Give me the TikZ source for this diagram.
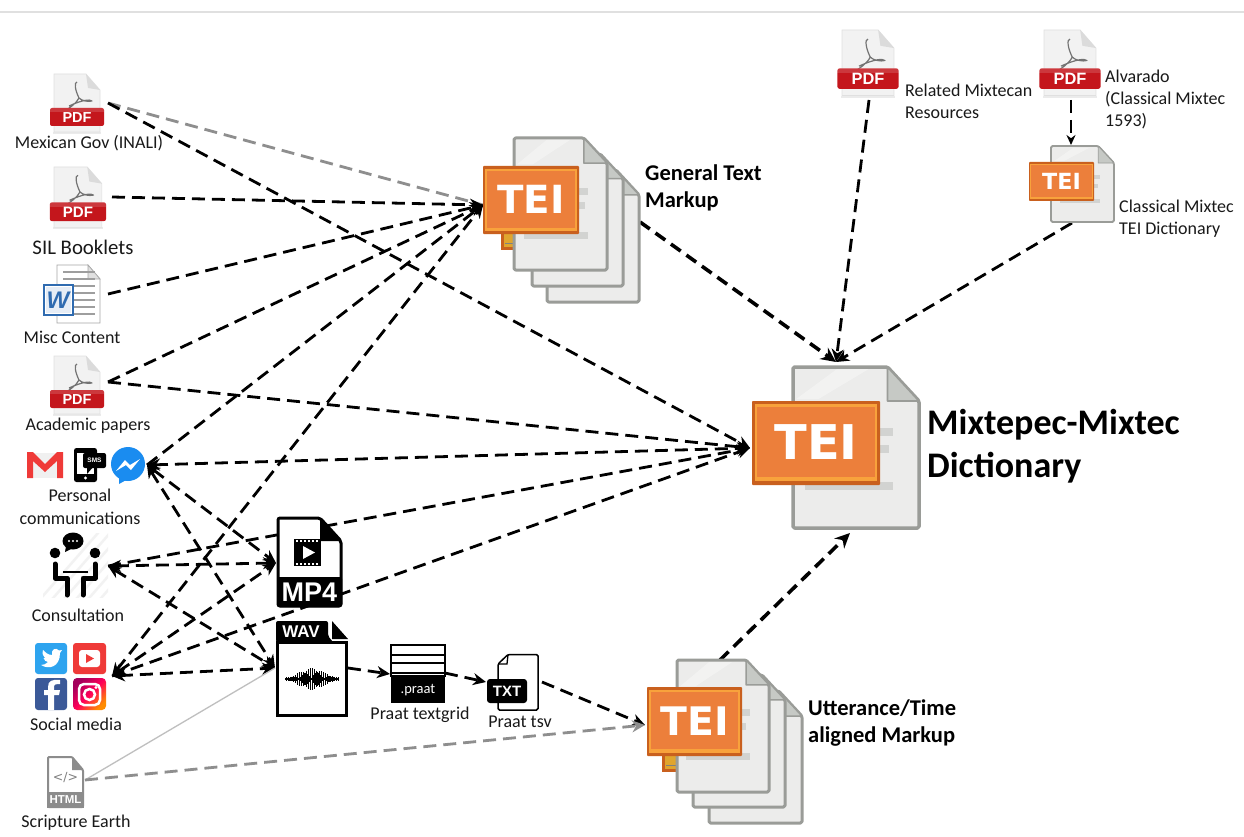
\documentclass[tikz,border=0pt]{standalone}
\usepackage{fontspec}
\setmainfont{Carlito}
\newfontfamily\arsf{Liberation Sans}
\newfontfamily\djv{DejaVu Sans}
\usetikzlibrary{arrows.meta,calc}
\definecolor{pagefill}{HTML}{ECECEB}
\definecolor{pageedge}{HTML}{9A9C98}
\definecolor{foldfill}{HTML}{C6C9C5}
\definecolor{teiorange}{HTML}{EC7F3B}
\definecolor{teidark}{HTML}{C9601E}
\definecolor{teilight}{HTML}{F8A23C}
\definecolor{teiyellow}{HTML}{E0A52E}
\definecolor{barcol}{HTML}{D2D3D1}
\definecolor{pdfred}{HTML}{C4161C}
\definecolor{graydash}{HTML}{8E8E8E}
\definecolor{fbblue}{HTML}{3B5998}
\definecolor{twblue}{HTML}{2EA4EF}
\definecolor{ytred}{HTML}{EF3A38}
\definecolor{msblue}{HTML}{1A8CF0}
\definecolor{wdblue}{HTML}{2F6BB0}
\tikzset{
  conn/.style={draw=black,line width=2.8pt,dash pattern=on 13pt off 7pt,-{Stealth[length=13pt,width=12pt]}},
  connplain/.style={draw=black,line width=2.8pt,dash pattern=on 13pt off 7pt},
  connboth/.style={draw=black,line width=2.8pt,dash pattern=on 13pt off 7pt,{Stealth[length=13pt,width=12pt]}-{Stealth[length=13pt,width=12pt]}},
  connthick/.style={draw=black,line width=3.6pt,dash pattern=on 12pt off 7pt,-{Stealth[length=15pt,width=14pt]}},
  conngray/.style={draw=graydash,line width=2.8pt,dash pattern=on 13pt off 7pt},
  lbl/.style={font=\fontsize{18}{23}\selectfont,inner sep=0pt,align=center,text=black!90},
  lbls/.style={font=\fontsize{18}{22}\selectfont,inner sep=0pt,align=left,anchor=west,text=black!90},
  head/.style={font=\fontsize{22.5}{27}\selectfont\bfseries,inner sep=0pt,align=left,anchor=west},
}
\newcommand{\pdfico}[4]{%
  \begin{scope}[shift={(#2,#3)},scale=#4,transform shape]
    \fill[black!8] (-1,58) rectangle (47,60);
    \path[fill=black!5,draw=black!12,line width=.6pt] (0,0) -- (32,0) -- (46,16) -- (46,58) -- (0,58) -- cycle;
    \path[fill=black!14] (32,0) -- (46,16) -- (34,14) -- cycle;
    \draw[black!55,line width=1.2pt,line join=round] (23,8) .. controls (20,8) and (21,16) .. (25,24) .. controls (22,30) and (15,34) .. (11,37) (25,24) .. controls (28,27) and (34,28) .. (38,27) .. controls (36,25) and (28,26) .. (15,32);
    \path[fill=pdfred,rounded corners=2pt] (-4,34) rectangle (50,52);
    \path[fill=white,opacity=.15] (-4,34) rectangle (50,38);
    \node[inner sep=0pt,text=white,font=\arsf\fontsize{14.5}{14}\selectfont\bfseries] (#1) at (23,43.5) {PDF};
  \end{scope}}
\newcommand{\teipage}[5][3]{% [lw] x y w h
  \pgfmathsetmacro\fx{#4*.25}\pgfmathsetmacro\fy{#4*.27}
  \path[fill=pagefill,draw=pageedge,line width=#1pt,rounded corners=1.5pt,line join=round]
    (#2,#3) -- ($(#2+#4-\fx,#3)$) -- ($(#2+#4,#3+\fy)$) -- ($(#2+#4,#3+#5)$) -- ($(#2,#3+#5)$) -- cycle;
  \path[fill=foldfill,draw=pageedge,line width=#1*.5pt,line join=round]
    ($(#2+#4-\fx,#3)$) -- ($(#2+#4,#3+\fy)$) -- ($(#2+#4-\fx,#3+\fy)$) -- cycle;
  \path[fill=white,opacity=.35] ($(#2+#4*.35,#3+2)$) -- ($(#2+#4*.6,#3+2)$) -- ($(#2+#4*.2,#3+#5*.2)$) -- ($(#2+3,#3+#5*.2)$) -- cycle;
}
\newcommand{\teibox}[5]{% name x y w h
  \pgfmathsetmacro\fsz{#5*.57}
  \path[fill=teidark,rounded corners=.8pt] (#2,#3) rectangle ($(#2+#4,#3+#5)$);
  \path[fill=teilight] ($(#2+#5*.035,#3+#5*.04)$) rectangle ($(#2+#4-#5*.035,#3+#5*.95)$);
  \path[fill=teiorange] ($(#2+#5*.055,#3+#5*.075)$) rectangle ($(#2+#4-#5*.055,#3+#5*.905)$);
  \node[inner sep=0pt,text=white,font=\djv\fontsize{\fsz}{\fsz}\selectfont\bfseries] (#1) at ($(#2+#4*.5,#3+#5*.49)$) {TEI};
}
\newcommand{\teibars}[8]{% x1 x2 x3 x4 y1 y2 y3 th
  \fill[barcol] (#1,#5) rectangle ($(#2,#5+#8)$);
  \fill[barcol] (#1,#6) rectangle ($(#3,#6+#8)$);
  \fill[barcol] (#4,#7) rectangle ($(#2,#7+#8)$);
}
\begin{document}
\begin{tikzpicture}[x=1pt,y=-1pt]
\useasboundingbox (0,0) rectangle (1244,837);
\fill[white] (0,0) rectangle (1244,837);
\draw[black!12,line width=2pt] (0,12) -- (1244,12);

% ports
\coordinate (govout) at (108,103);
\coordinate (silout) at (112,197);
\coordinate (wordout) at (108,294);
\coordinate (acadout) at (108,382);
\coordinate (msgport) at (147,465);
\coordinate (consport) at (108,566);
\coordinate (socport) at (112,676);
\coordinate (htmlport) at (85,780);
\coordinate (genin) at (483,205);
\coordinate (genout) at (640,222);
\coordinate (dictin) at (750,448);
\coordinate (dicttop) at (836,362);
\coordinate (dictbot) at (850,533);
\coordinate (mp4in) at (276,563);
\coordinate (wavin) at (275,668);
\coordinate (wavout) at (348,668);
\coordinate (praatin) at (390,674);
\coordinate (praatout) at (445,673);
\coordinate (txtin) at (486,682);
\coordinate (txtout) at (542,682);
\coordinate (uttin) at (645,725);
\coordinate (uttout) at (720,660);
\coordinate (relout) at (869,100);
\coordinate (alvout) at (1071,100);
\coordinate (claIn) at (1071,145);
\coordinate (claout) at (1072,223);

% connectors
\draw[conngray] (govout) -- (genin);
\draw[conn] (govout) -- (dictin);
\draw[conn] (silout) -- (genin);
\draw[conn] (wordout) -- (genin);
\draw[conn] (acadout) -- (genin);
\draw[conn] (acadout) -- (dictin);
\draw[connboth] (msgport) -- (dictin);
\draw[connplain] (msgport) -- (genin);
\draw[connboth] (msgport) -- (mp4in);
\draw[connboth] (msgport) -- (wavin);
\draw[conn] (consport) -- (dictin);
\draw[connboth] (consport) -- (mp4in);
\draw[connboth] (consport) -- (wavin);
\draw[connboth] (socport) -- (genin);
\draw[connboth] (socport) -- (mp4in);
\draw[conn] (socport) -- (dictin);
\draw[connboth] (socport) -- (wavin);
\draw[conn] (wavout) -- (praatin);
\draw[conn] (praatout) -- (txtin);
\draw[conn] (txtout) -- (uttin);
\draw[black!25,line width=1.3pt] (htmlport) -- (wavin);
\draw[conngray,-{Stealth[length=13pt,width=12pt]}] (htmlport) -- (uttin);
\draw[connthick] (genout) -- (dicttop);
\draw[conn] (relout) -- (dicttop);
\draw[conn] (claout) -- (dicttop);
\draw[connthick] (uttout) -- (dictbot);
\draw[conn,-{Stealth[length=10pt,width=9pt]}] (alvout) -- (claIn);

% PDF icons
\pdfico{pdfgov}{54}{74}{1}
\pdfico{pdfsil}{54}{167}{1.04}
\pdfico{pdfacad}{54}{356}{1}
\pdfico{pdfrel}{842}{30}{1.13}
\pdfico{pdfalv}{1044}{30}{1.13}

% Word icon
\path[fill=white,draw=black!35,line width=.8pt] (57,265) -- (88,265) -- (100,279) -- (100,323) -- (57,323) -- cycle;
\path[fill=black!12,draw=black!35,line width=.6pt] (88,265) -- (100,279) -- (88,279) -- cycle;
\foreach \yy in {272,279,286,293,300,307,314}{\draw[black!38,line width=1.6pt] (63,\yy) -- (95,\yy);}
\path[fill=white,draw=wdblue,line width=2pt] (44,285) rectangle (73,315);
\path[fill=wdblue!12] (46,287) rectangle (71,313);
\node[inner sep=0pt,text=wdblue,font=\arsf\fontsize{24}{24}\selectfont\bfseries\itshape] (wordw) at (58,300) {W};

% Gmail
\fill[black!6] (30,453) rectangle (60,478);
\fill[ytred] (27,452) -- (33,452) -- (45,464) -- (57,452) -- (63,452) -- (63,478) -- (57,478) -- (57,461) -- (45,472) -- (33,461) -- (33,478) -- (27,478) -- cycle;

% SMS phone
\path[fill=black,rounded corners=2.5pt] (74,448) rectangle (97,482);
\fill[white] (77,453) rectangle (94,474);
\fill[white] (85.5,478) circle[radius=1.7];
\path[fill=black,rounded corners=2pt] (83,453) rectangle (106,468);
\fill[black] (87,466) -- (87,474) -- (94,466) -- cycle;
\node[inner sep=0pt,text=white,font=\arsf\fontsize{6.5}{7}\selectfont\bfseries] (smst) at (94.5,460) {SMS};

% Messenger
\fill[msblue] (128,464) circle[radius=17];
\fill[msblue] (119,476) -- (119,484) -- (128,479) -- cycle;
\fill[white] (116,471) -- (125,460) -- (130,465) -- (140,459) -- (131,470) -- (126,465) -- cycle;

% Consultation
\begin{scope}
  \clip (43,533) rectangle (108,597);
  \foreach \k in {0,12,...,132}{\draw[black!5,line width=2.5pt] ($(35+\k,605)$) -- ($(105+\k,525)$);}
\end{scope}
\fill[black] (55,553) circle[radius=5.3];
\fill[black] (95,553) circle[radius=5.3];
\draw[black,line width=5pt,line cap=round,line join=round] (55,564) -- (55,578) -- (67,578) -- (67,595);
\draw[black,line width=5pt,line cap=round,line join=round] (95,564) -- (95,578) -- (83,578) -- (83,595);
\draw[black,line width=2.6pt] (63,572) -- (88,572);
\fill[black] (73,541) ellipse[x radius=10.5,y radius=8.5];
\fill[black] (66,546) -- (65,552) -- (73,548) -- cycle;
\foreach \xx in {69,73,77}{\fill[white] (\xx,541) circle[radius=1.2];}

% MP4
\path[fill=white,draw=black,line width=3pt,rounded corners=2pt,line join=round] (278,518) -- (320,518) -- (341,541) -- (341,606) -- (278,606) -- cycle;
\path[fill=black] (320,518) -- (341,541) -- (320,541) -- cycle;
\path[fill=black,rounded corners=2pt] (277,577) rectangle (342,607);
\node[inner sep=0pt,text=white,font=\arsf\fontsize{27}{27}\selectfont\bfseries] (mp4t) at (309.5,592) {MP4};
\fill[black] (294,539) rectangle (321,566);
\foreach \xx in {296,300,...,318}{\fill[white] (\xx,540) rectangle ($(\xx+2,542)$);\fill[white] (\xx,563) rectangle ($(\xx+2,565)$);}
\fill[white] (303,546) -- (303,559) -- (315,552.5) -- cycle;

% WAV
\path[fill=white,draw=black,line width=3pt] (277.5,642) rectangle (346.5,715);
\path[fill=black,rounded corners=2pt] (276,621) -- (328,621) -- (328,636) -- (333,642) -- (276,642) -- cycle;
\fill[black] (332,621) -- (348,639) -- (332,639) -- cycle;
\node[inner sep=0pt,text=white,font=\arsf\fontsize{17}{17}\selectfont\bfseries] (wavt) at (301,632) {WAV};
\foreach \i in {0,...,53}{
  \pgfmathsetmacro\hh{0.8+(1+9*sin(\i*3.4)^2)*abs(sin(\i*97))}
  \draw[black,line width=.9pt] ($(285+\i,679-\hh)$) -- ($(285+\i,679+\hh)$);
}

% Praat
\draw[black,line width=1.6pt] (391,645) rectangle (445,676);
\draw[black,line width=1.1pt] (391,655) -- (445,655) (391,663) -- (445,663) (391,673) -- (445,673);
\fill[black] (391,676) rectangle (445,703);
\node[inner sep=0pt,text=white,font=\fontsize{14.5}{15}\selectfont] (praatt) at (418,690) {.praat};

% TXT
\path[draw=black,line width=1.5pt,rounded corners=1.5pt] (498,664) -- (508,654.5) -- (538,654.5) -- (538,710) -- (498,710) -- cycle;
\draw[black,line width=1.3pt] (498,664) -- (507,664) -- (508,654.5);
\path[fill=black,rounded corners=3pt] (487,679) rectangle (527,703);
\node[inner sep=0pt,text=white,font=\arsf\fontsize{15}{15}\selectfont\bfseries] (txtt) at (507,691) {TXT};

% Social media
\path[fill=twblue,rounded corners=3pt] (35,643) rectangle (67,674);
\fill[white] (41,665) .. controls (49,670) and (60,667) .. (60,653) -- (62,650) -- (59,650.5) .. controls (56,647) and (51,649) .. (52,655) .. controls (48,655) and (45,652) .. (43,650) .. controls (42,654) and (43,656) .. (45,658) -- (43.5,658) .. controls (44,660) and (46,662) .. (48,662) .. controls (46,664) and (44,665) .. (41,665) -- cycle;
\path[fill=ytred,rounded corners=3pt] (73,643) rectangle (106,674);
\path[fill=white,rounded corners=3pt] (79,650) rectangle (100,667);
\fill[ytred] (86,654) -- (86,663) -- (94,658.5) -- cycle;
\path[fill=fbblue,rounded corners=3pt] (35,678) rectangle (67,710);
\path[fill=white] (54,710) -- (54,695) -- (59,695) -- (60,690) -- (54,690) -- (54,686) .. controls (54,684.5) and (56,684) .. (60,684) -- (60,680) .. controls (52,679) and (48,681) .. (48,687) -- (48,690) -- (44,690) -- (44,695) -- (48,695) -- (48,710) -- cycle;
\path[left color=purple!85!blue,right color=orange!90!yellow,middle color=red!65!magenta,shading angle=45,rounded corners=4pt] (73,678) rectangle (106,710);
\draw[white,line width=2.5pt,rounded corners=5pt] (79,684) rectangle (100,705);
\draw[white,line width=2.5pt] (89.5,694.5) circle[radius=5.5];
\fill[white] (96,687.5) circle[radius=1.7];

% HTML
\path[fill=white,draw=black!45,line width=2pt,rounded corners=1pt] (48,757) -- (72,757) -- (83,770) -- (83,807) -- (48,807) -- cycle;
\fill[black!45] (72,757) -- (83,770) -- (72,770) -- cycle;
\fill[black!45] (47,792) rectangle (84,808);
\node[inner sep=0pt,text=white,font=\arsf\fontsize{11.5}{12}\selectfont\bfseries] (htmlt) at (65.5,800) {HTML};
\node[inner sep=0pt,text=black!50,font=\djv\fontsize{12.5}{13}\selectfont] (htmlc) at (65.5,778) {</>};

% TEI stacks: General Text Markup
\teipage{547}{170}{92}{132}
\teipage{532}{154}{91}{132}
\fill[teidark] (501,230) rectangle (518,250);
\fill[teiyellow] (504,232) rectangle (518,247);
\draw[black!50,line width=.8pt] (505,243) -- (514,243);
\teipage{514}{138}{93}{132}
\teibars{540}{588}{585}{524}{188}{202}{232}{7}
\teibox{teigen}{483}{166}{96}{68}

% Utterance
\teipage{709}{691}{93}{132}
\teipage{693}{675}{92}{132}
\fill[teidark] (662,752) rectangle (680,772);
\fill[teiyellow] (665,754) rectangle (680,769);
\draw[black!50,line width=.8pt] (666,765) -- (676,765);
\teipage{677}{660}{92}{132}
\teibars{742}{750}{746}{686}{709}{723}{753}{7}
\teibox{teiutt}{647}{687}{95}{69}

% Dictionary
\teipage[3.5]{793}{367}{126}{161}
\teibars{850}{893}{889}{805}{428}{445}{482}{8}
\teibox{teidict}{752}{401}{128}{84}

% Classical
\teipage[1.8]{1051}{146}{63}{76}
\teibars{1090}{1100}{1098}{1060}{175}{184}{199}{4}
\teibox{teicla}{1029}{162}{65}{39}

% Labels
\node[lbl] (lgov) at (89,143) {Mexican Gov (INALI)};
\node[lbl,font=\fontsize{20.8}{22}\selectfont] (lsil) at (83,247) {SIL Booklets};
\node[lbl] (lmisc) at (72,337) {Misc Content};
\node[lbl] (lacad) at (88,426) {Academic papers};
\node[lbl] (lpers) at (80,506.5) {Personal\\communications};
\node[lbl] (lcons) at (78,615) {Consultation};
\node[lbl] (lsoc) at (76,724) {Social media};
\node[lbl] (lscr) at (76,823) {Scripture Earth};
\node[lbl] (lprg) at (420,715) {Praat textgrid};
\node[lbl] (lprt) at (520,722) {Praat tsv};
\node[head] (lgen) at (645,188) {General Text\\Markup};
\node[head] (lutt) at (808,723.5) {Utterance/Time\\aligned Markup};
\node[head,font=\fontsize{36}{43}\selectfont\bfseries] (ldict) at (927,446.5) {Mixtepec-Mixtec\\Dictionary};
\node[lbls] (lrel) at (905,101) {Related Mixtecan\\Resources};
\node[lbls] (lalv) at (1105,100) {Alvarado\\(Classical Mixtec\\1593)};
\node[lbls] (lcla) at (1119,218.5) {Classical Mixtec\\TEI Dictionary};
\end{tikzpicture}
\end{document}
